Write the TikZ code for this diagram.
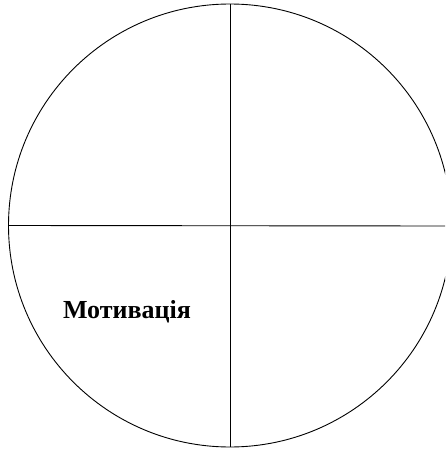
\documentclass[tikz,border=0pt]{standalone}
\usepackage{fontspec}
\setmainfont{Liberation Serif}
\begin{document}
\begin{tikzpicture}[x=1pt,y=1pt,line/.style={black,line width=0.9pt}]
\useasboundingbox (0,0) rectangle (445,-449);
\begin{scope}
\clip (0,0) rectangle (445,-449);
\node[circle,draw,line width=0.9pt,minimum size=443pt,inner sep=0pt] (c) at (230,-225.5) {};
\coordinate (r) at (445,-226);
\draw[line] (c.west) -- (r);
\draw[line] (c.north) -- (c.south);
\end{scope}
\node[font=\bfseries\fontsize{26}{30}\selectfont,anchor=base,inner sep=0pt] (m) at (127,-318) {Мотивація};
\end{tikzpicture}
\end{document}
